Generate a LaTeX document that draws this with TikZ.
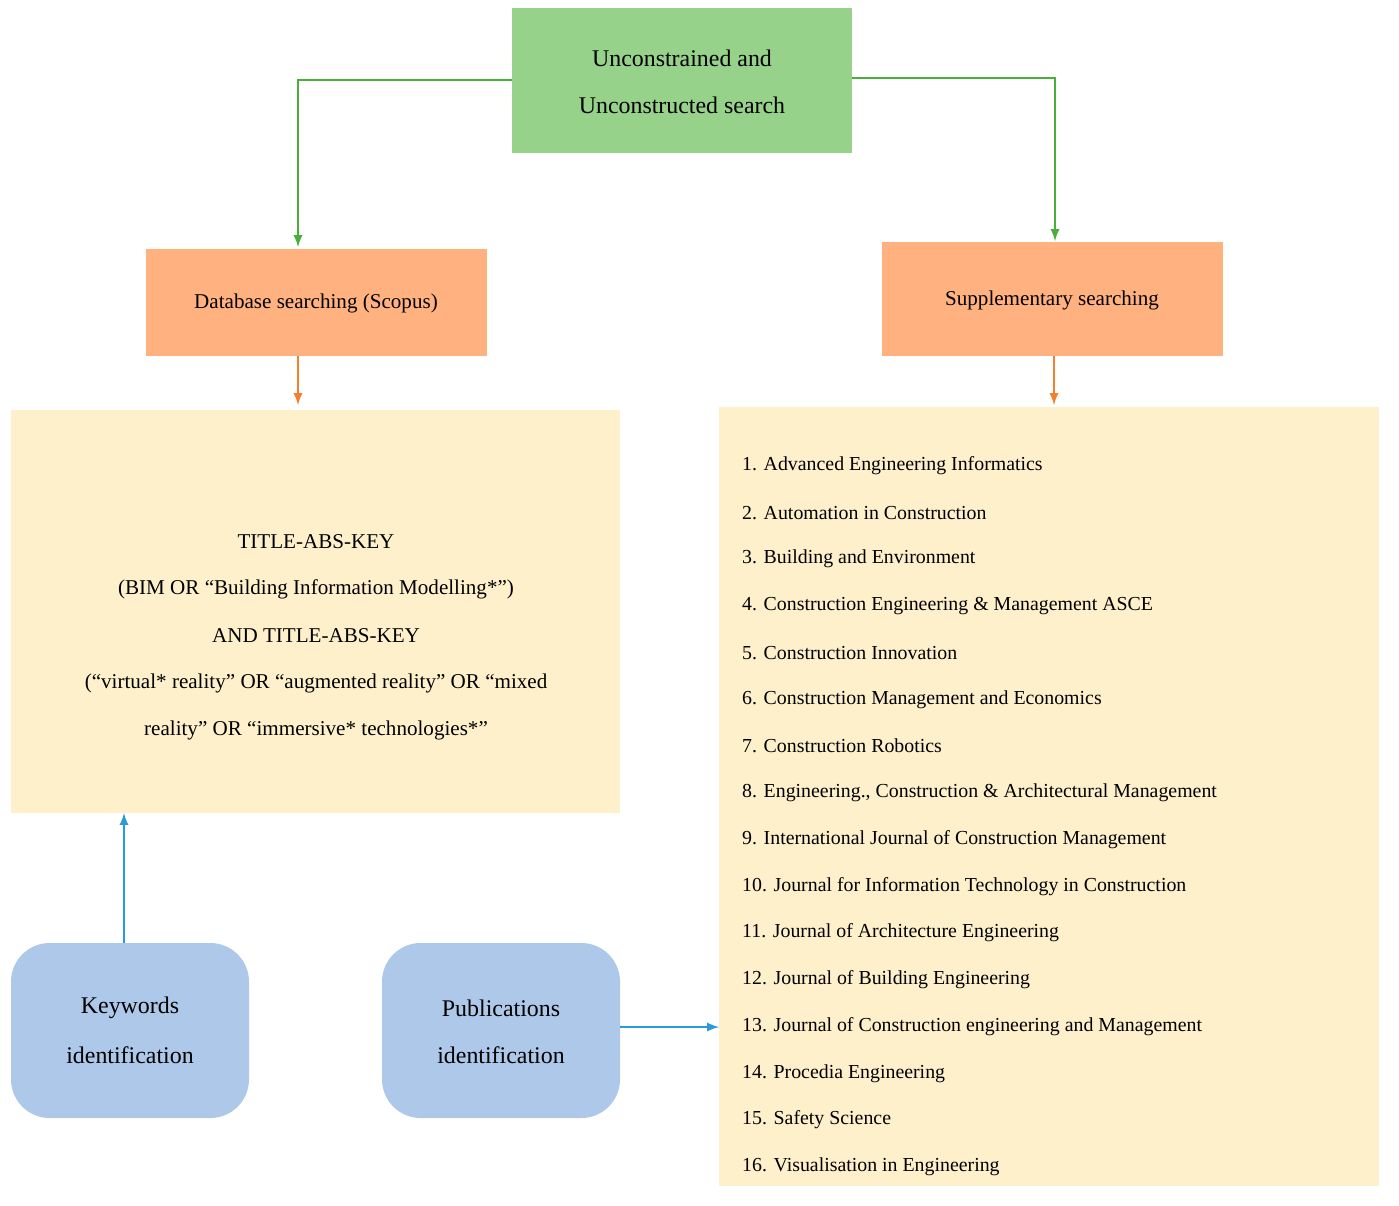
\documentclass[tikz,border=0pt]{standalone}
\usepackage{fontspec}
\setmainfont{Liberation Serif}
\begin{document}
\begin{tikzpicture}[x=0.02cm,y=-0.02cm,
 garr/.style={draw={rgb,255:red,74;green,174;blue,58},line width=1.3pt,-latex},
 oarr/.style={draw={rgb,255:red,244;green,127;blue,47},line width=1.3pt,-latex},
 barr/.style={draw={rgb,255:red,42;green,154;blue,216},line width=1.3pt,-latex},
 t/.style={font=\fontsize{12}{14}\selectfont},
 tb/.style={font=\fontsize{13.6}{15}\selectfont},
 j/.style={font=\fontsize{11.3}{13}\selectfont,anchor=west}]
\useasboundingbox (0,0) rectangle (1399,1205);
\definecolor{gr}{RGB}{151,210,138}
\definecolor{or}{RGB}{255,178,127}
\definecolor{ye}{RGB}{255,240,204}
\definecolor{bl}{RGB}{173,200,232}
\fill[gr] (512,8) rectangle (852,153);
\node[tb] (top) at (682,58) {Unconstrained and};
\node[tb] (top2) at (682,105) {Unconstructed search};
\coordinate (tl) at (512,80); \coordinate (tr) at (852,78);
\fill[or] (146,249) rectangle (487,356);
\node[t] (db) at (316,303) {Database searching (Scopus)};
\fill[or] (882,242) rectangle (1223,356);
\node[t] (sup) at (1052,300) {Supplementary searching};
\fill[ye] (11,410) rectangle (620,813);
\fill[ye] (719,407) rectangle (1379,1186);
\fill[bl,rounded corners=22] (11,943) rectangle (249,1118);
\fill[bl,rounded corners=22] (382,943) rectangle (620,1118);
\node[tb] (kw) at (130,1008) {Keywords};
\node[tb] (kw2) at (130,1055) {identification};
\node[tb] (pub) at (501,1008) {Publications};
\node[tb] (pub2) at (501,1055) {identification};
\node[t] (q1) at (316,542) {TITLE-ABS-KEY};
\node[t] (q2) at (316,589) {(BIM OR “Building Information Modelling*”)};
\node[t] (q3) at (316,636) {AND TITLE-ABS-KEY};
\node[t] (q4) at (316,683) {(“virtual* reality” OR “augmented reality” OR “mixed};
\node[t] (q5) at (316,730) {reality” OR “immersive* technologies*”};
\node[j] (j1) at (736,466) {1. Advanced Engineering Informatics};
\node[j] (j2) at (736,513) {2. Automation in Construction};
\node[j] (j3) at (736,559) {3. Building and Environment};
\node[j] (j4) at (736,606) {4. Construction Engineering \& Management ASCE};
\node[j] (j5) at (736,653) {5. Construction Innovation};
\node[j] (j6) at (736,700) {6. Construction Management and Economics};
\node[j] (j7) at (736,746) {7. Construction Robotics};
\node[j] (j8) at (736,793) {8. Engineering., Construction \& Architectural Management};
\node[j] (j9) at (736,840) {9. International Journal of Construction Management};
\node[j] (j10) at (736,887) {10. Journal for Information Technology in Construction};
\node[j] (j11) at (736,933) {11. Journal of Architecture Engineering};
\node[j] (j12) at (736,980) {12. Journal of Building Engineering};
\node[j] (j13) at (736,1027) {13. Journal of Construction engineering and Management};
\node[j] (j14) at (736,1074) {14. Procedia Engineering};
\node[j] (j15) at (736,1120) {15. Safety Science};
\node[j] (j16) at (736,1167) {16. Visualisation in Engineering};
\draw[garr] (tl) -| (298,247);
\draw[garr] (tr) -| (1055,241);
\draw[oarr] (298,356) -- (298,405);
\draw[oarr] (1054,356) -- (1054,405);
\draw[barr] (124,943) -- (124,813);
\draw[barr] (620,1027) -- (719,1027);
\end{tikzpicture}
\end{document}
